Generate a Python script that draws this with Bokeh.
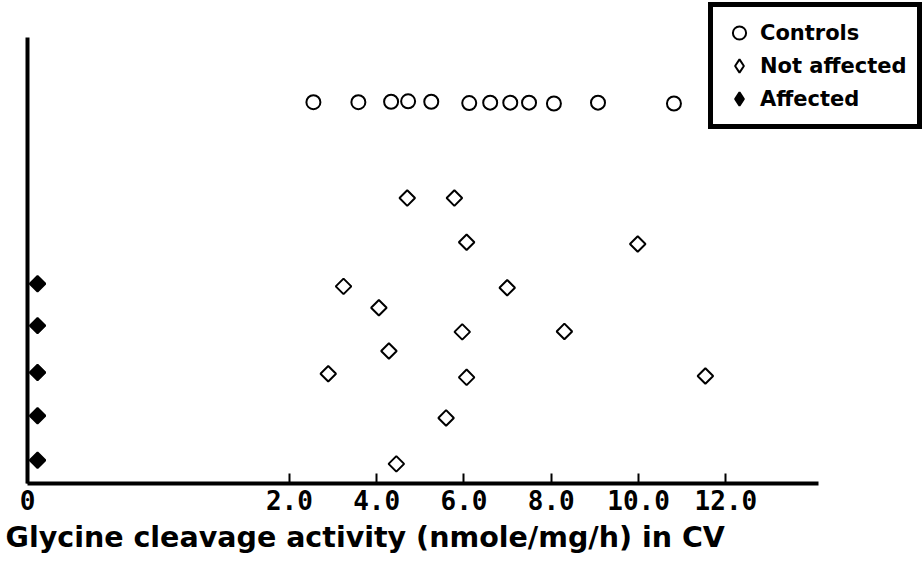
import math
from bokeh.plotting import figure
from bokeh.models import Range1d, FixedTicker, Legend, LegendItem, Title, ColumnDataSource
from bokeh.embed import file_html
from bokeh.resources import INLINE

# ---- data ----
controls_x = [2.55, 3.58, 4.33, 4.72, 5.25, 6.12, 6.60, 7.06, 7.49, 8.06, 9.07, 10.81]
controls_y = [85.5, 85.5, 85.6, 85.7, 85.6, 85.3, 85.4, 85.4, 85.4, 85.2, 85.4, 85.2]

not_affected_x = [4.70, 5.78, 6.06, 9.98, 3.24, 6.99, 4.05, 5.96, 8.30, 4.28, 2.89, 6.06, 11.53, 5.59, 4.45]
not_affected_y = [64.0, 64.0, 54.1, 53.7, 44.2, 43.9, 39.4, 34.0, 34.1, 29.7, 24.6, 23.8, 24.1, 14.7, 4.4]

affected_x = [0.0, 0.0, 0.0, 0.0, 0.0]
affected_y = [44.8, 35.4, 24.9, 15.2, 5.2]

x_tick_values = [0, 2, 4, 6, 8, 10, 12]
x_tick_labels = ["0", "2.0", "4.0", "6.0", "8.0", "10.0", "12.0"]

legend_labels = ["Controls", "Not affected", "Affected"]
x_label = "Glycine cleavage activity (nmole/mg/h) in CV"

# ---- broken x axis: the value 0 is shown at the left edge, the scale proper starts at 2.0 ----
ZERO_AT = -4.0          # where the value 0 sits on the drawn scale
BREAK = 2.0
MARKER_NUDGE = 0.23     # keeps the filled diamonds just right of the axis line


def on_axis(v):
    return v if v >= BREAK else ZERO_AT + v


p = figure(width=924, height=568, output_backend="svg", toolbar_location=None,
           x_range=Range1d(ZERO_AT, 16.55), y_range=Range1d(0, 108.3),
           min_border_left=27, min_border_right=0, min_border_top=0, min_border_bottom=85)
p.background_fill_color = "white"
p.border_fill_color = "white"
p.outline_line_color = None
p.grid.visible = False

ctrl = ColumnDataSource(dict(x=[on_axis(v) for v in controls_x], y=controls_y))
nota = ColumnDataSource(dict(x=[on_axis(v) for v in not_affected_x], y=not_affected_y))
aff = ColumnDataSource(dict(x=[on_axis(v) + MARKER_NUDGE for v in affected_x], y=affected_y))

r1 = p.scatter("x", "y", source=ctrl, marker="circle", size=14, fill_color="white",
               line_color="black", line_width=2)
r2 = p.scatter("x", "y", source=nota, marker="square", size=11, angle=math.pi / 4,
               fill_color="white", line_color="black", line_width=2)
r3 = p.scatter("x", "y", source=aff, marker="square", size=11, angle=math.pi / 4,
               fill_color="black", line_color="black", line_width=2)

# legend swatches for the diamonds (the legend cannot rotate a square);
# a single NaN point so nothing shows in the plot area
nan_src = dict(x=[float("nan")], y=[float("nan")])
k2 = p.scatter("x", "y", source=ColumnDataSource(nan_src), marker="diamond",
               fill_color="white", line_color="black", line_width=2)
k3 = p.scatter("x", "y", source=ColumnDataSource(nan_src), marker="diamond",
               fill_color="black", line_color="black", line_width=2)

# x axis
xa = p.xaxis[0]
ticks = [on_axis(v) for v in x_tick_values]
xa.ticker = FixedTicker(ticks=ticks)
xa.major_label_overrides = {t: lab for t, lab in zip(ticks, x_tick_labels)}
xa.bounds = (ZERO_AT, 14.12)
xa.axis_line_width = 4
xa.axis_line_color = "black"
xa.major_tick_in = 10
xa.major_tick_out = 0
xa.major_tick_line_width = 2
xa.minor_tick_line_color = None
xa.major_label_standoff = 6
xa.major_label_text_font = "DejaVu Sans Mono"
xa.major_label_text_font_style = "bold"
xa.major_label_text_font_size = "26px"
xa.major_label_text_color = "black"

# y axis: bare line only
ya = p.yaxis[0]
ya.ticker = FixedTicker(ticks=[])
ya.bounds = (0, 100)
ya.axis_line_width = 4
ya.axis_line_color = "black"
ya.major_tick_line_color = None
ya.minor_tick_line_color = None
ya.major_label_text_font_size = "0px"

# axis title (left aligned under the axis)
t = Title(text=x_label, align="left", offset=-22, standoff=13,
          text_font="DejaVu Sans", text_font_style="bold", text_font_size="28.5px",
          text_color="black")
p.add_layout(t, "below")

legend = Legend(items=[LegendItem(label=legend_labels[0], renderers=[r1]),
                       LegendItem(label=legend_labels[1], renderers=[k2]),
                       LegendItem(label=legend_labels[2], renderers=[k3])],
                location="top_right", margin=2, padding=9, spacing=0,
                glyph_width=34, glyph_height=33, label_height=26, label_standoff=4,
                label_width=148,
                label_text_font="DejaVu Sans", label_text_font_style="bold",
                label_text_font_size="21px", label_text_color="black",
                border_line_color="black", border_line_width=5, border_line_alpha=1.0,
                background_fill_color="white", background_fill_alpha=1.0)
p.add_layout(legend)

open("out.html", "w").write(file_html(p, INLINE))
